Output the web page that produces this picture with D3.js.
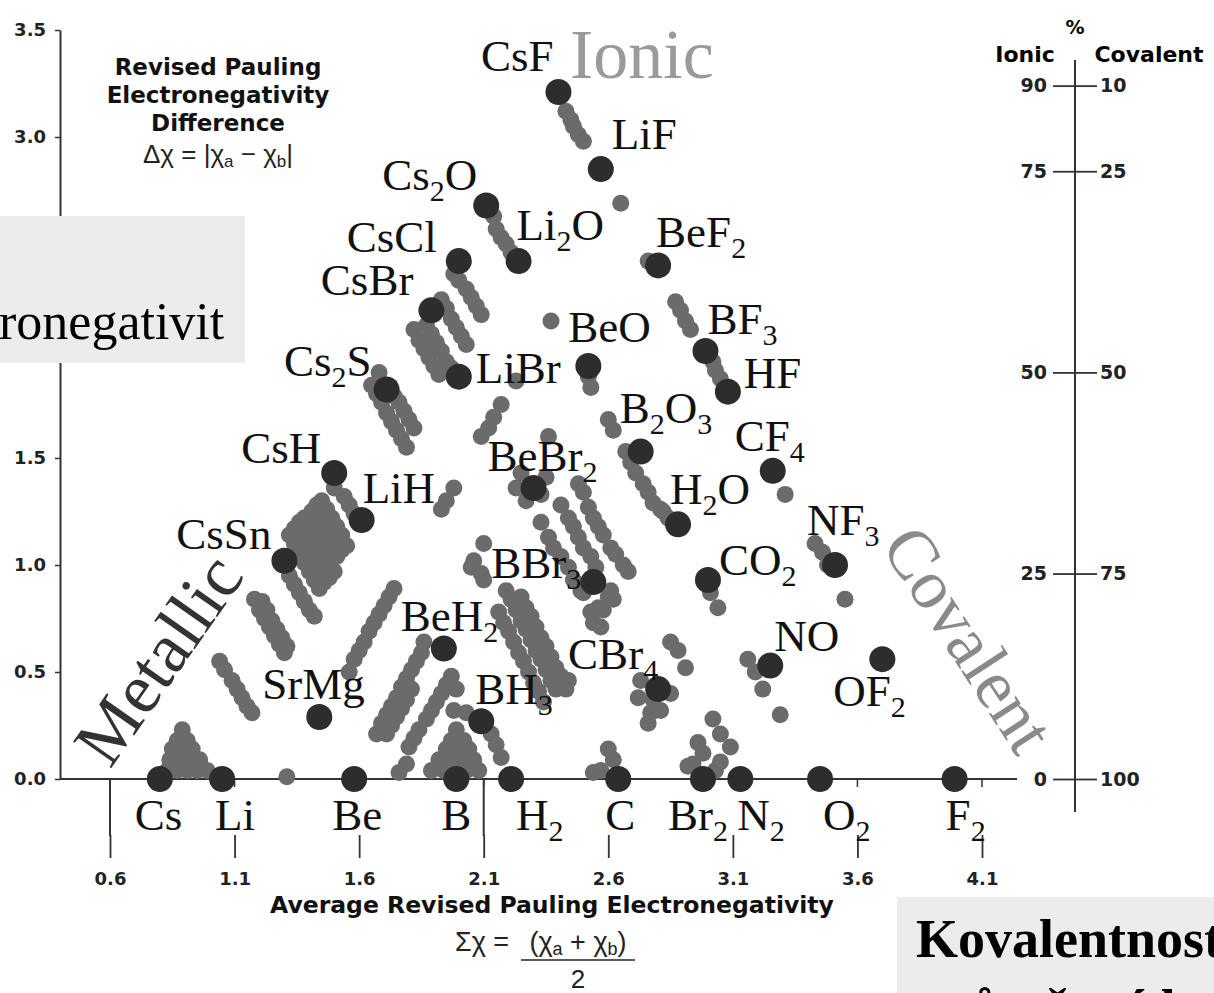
<!DOCTYPE html>
<html>
<head>
<meta charset="utf-8">
<script src="https://cdn.jsdelivr.net/npm/d3@7"></script>
<style>
  html, body { margin: 0; padding: 0; background: #fff; }
  svg { display: block; }
</style>
</head>
<body>
<div id="chart"></div>
<script>
// van Arkel-Ketelaar triangle: average vs difference of electronegativity

const elements   = ["Cs", "Li", "Be", "B", "H2", "C", "Br2", "N2", "O2", "F2"];
const elementAvg = [0.80, 1.05, 1.58, 1.99, 2.21, 2.64, 2.98, 3.13, 3.45, 3.99];

const compounds = ["CsF", "LiF", "Cs2O", "Li2O", "CsCl", "CsBr", "BeF2", "BeO", "LiBr", "BF3",
  "HF", "Cs2S", "B2O3", "CF4", "CsH", "LiH", "BeBr2", "H2O", "NF3", "CsSn",
  "CO2", "BBr3", "BeH2", "NO", "OF2", "CBr4", "SrMg", "BH3"];
const compoundAvg = [2.40, 2.57, 2.11, 2.24, 2.00, 1.89, 2.80, 2.52, 2.00, 2.99,
  3.08, 1.71, 2.73, 3.26, 1.50, 1.61, 2.30, 2.88, 3.51, 1.30,
  3.00, 2.54, 1.94, 3.25, 3.70, 2.80, 1.44, 2.09];
const compoundDiff = [3.21, 2.85, 2.68, 2.42, 2.42, 2.19, 2.40, 1.93, 1.88, 2.00,
  1.81, 1.82, 1.53, 1.44, 1.43, 1.21, 1.36, 1.19, 1.00, 1.02,
  0.93, 0.92, 0.61, 0.53, 0.56, 0.42, 0.29, 0.27];

// unlabelled binaries, [average, difference]
const otherBinaries = [
  [2.43,3.12],[2.45,3.08],[2.46,3.05],[2.48,3.01],[2.50,2.98],[2.65,2.69],
  [2.14,2.63],[2.15,2.57],[2.17,2.53],[2.19,2.50],[2.21,2.46],
  [2.76,2.42],[2.87,2.23],[2.89,2.19],[2.91,2.14],[2.93,2.10],[3.02,1.95],[3.03,1.91],[3.05,1.87],
  [1.98,2.36],[2.00,2.33],[2.03,2.29],[2.05,2.25],[2.07,2.21],[2.09,2.17],
  [1.93,2.24],[1.95,2.20],[1.97,2.15],[1.99,2.11],[2.01,2.07],[2.03,2.03],
  [1.87,2.12],[1.89,2.08],[1.91,2.04],[1.93,2.00],[1.95,1.95],[1.97,1.92],
  [1.82,2.10],[1.84,2.05],[1.86,2.01],[1.88,1.97],[1.90,1.93],[1.92,1.89],
  [1.68,1.90],[1.65,1.84],[1.67,1.80],[1.69,1.76],[1.71,1.71],[1.73,1.67],[1.75,1.63],[1.77,1.59],[1.79,1.55],
  [1.74,1.79],[1.76,1.76],[1.78,1.72],[1.80,1.68],[1.82,1.64],
  [2.37,2.14],[2.52,1.88],[2.53,1.83],[2.23,1.86],
  [2.17,1.75],[2.14,1.69],[2.12,1.64],[2.09,1.60],[2.36,1.60],
  [1.98,1.36],[1.95,1.30],[1.93,1.26],
  [2.25,1.43],[2.23,1.36],[2.27,1.30],[2.35,1.41],[2.33,1.33],
  [2.48,1.38],[2.50,1.34],
  [2.41,1.28],[2.44,1.22],[2.46,1.18],[2.48,1.13],[2.50,1.08],[2.53,1.04],[2.55,0.99],
  [2.52,1.27],[2.54,1.22],[2.56,1.18],[2.58,1.14],[2.61,1.08],[2.63,1.05],[2.66,1.00],[2.68,0.97],
  [2.33,1.20],[2.36,1.13],[2.38,1.08],[2.41,1.04],[2.44,0.99],[2.46,0.93],[2.49,0.88],
  [2.10,1.10],[2.06,1.02],[2.05,0.99],[2.09,0.96],[2.10,0.93],
  [2.50,0.87],[2.56,0.80],[2.58,0.79],[2.53,0.78],[2.54,0.73],[2.57,0.71],[2.60,0.85],[2.61,0.88],[2.62,0.84],
  [2.19,0.88],[2.21,0.84],[2.23,0.79],[2.25,0.74],[2.27,0.70],[2.29,0.65],[2.31,0.60],[2.33,0.56],[2.35,0.51],[2.37,0.46],[2.39,0.42],
  [2.25,0.85],[2.27,0.80],[2.29,0.76],[2.31,0.71],[2.33,0.66],[2.35,0.62],[2.37,0.57],[2.39,0.52],[2.41,0.48],
  [2.16,0.78],[2.18,0.73],[2.20,0.69],[2.22,0.64],[2.24,0.59],[2.26,0.55],[2.28,0.50],[2.30,0.45],[2.32,0.41],[2.34,0.36],
  [2.43,0.42],[2.44,0.46],
  [1.56,0.50],[1.58,0.56],[1.60,0.60],[1.62,0.64],[1.64,0.69],[1.66,0.73],[1.68,0.77],[1.70,0.81],[1.72,0.85],[1.74,0.89],
  [1.67,0.21],[1.69,0.26],[1.71,0.30],[1.73,0.34],[1.75,0.38],[1.77,0.43],[1.79,0.47],[1.81,0.51],[1.83,0.55],[1.85,0.59],
  [1.71,0.21],[1.73,0.25],[1.75,0.29],[1.77,0.33],[1.79,0.37],[1.81,0.42],
  [1.80,0.15],[1.82,0.19],[1.84,0.23],[1.87,0.28],[1.89,0.32],[1.91,0.36],[1.93,0.40],[1.95,0.44],[1.97,0.48],
  [1.86,0.64],[1.76,0.03],[1.79,0.07],
  [1.99,0.23],[1.97,0.18],[2.02,0.18],[1.95,0.14],[1.99,0.14],[2.04,0.14],[1.92,0.09],[1.97,0.09],[2.01,0.09],[2.06,0.09],
  [1.89,0.04],[1.94,0.04],[2.03,0.04],[2.08,0.04],
  [2.13,0.21],[2.15,0.16],[2.17,0.10],[1.95,0.43],[1.99,0.42],[1.98,0.32],[2.03,0.31],
  [2.85,0.64],[2.88,0.60],[2.91,0.52],[2.73,0.46],[2.72,0.38],[2.78,0.37],[2.85,0.40],[2.77,0.31],[2.81,0.32],[2.76,0.26],
  [2.60,0.14],[2.62,0.09],[2.57,0.04],[2.54,0.03],
  [3.02,0.28],[3.05,0.21],[3.09,0.15],[2.96,0.17],[2.98,0.12],[2.94,0.07],[2.92,0.06],[3.03,0.04],[3.05,0.08],
  [3.16,0.56],[3.19,0.50],[3.22,0.42],[3.29,0.30],
  [3.01,0.87],[3.04,0.80],
  [3.43,1.10],[3.46,1.06],[3.48,1.00],[3.55,0.84],
  [3.31,1.33],[2.82,1.25],[2.84,1.22],
  [2.60,1.68],[2.62,1.63],[2.67,1.53],[2.69,1.48],[2.71,1.43],[2.74,1.38],[2.76,1.34],[2.78,1.29],[2.81,1.26],
  [1.45,1.30],[1.47,1.26],[1.49,1.22],[1.51,1.18],[1.53,1.14],[1.55,1.09],
  [1.43,1.28],[1.45,1.23],[1.47,1.19],[1.49,1.15],[1.51,1.11],[1.53,1.07],
  [1.41,1.25],[1.43,1.21],[1.45,1.16],[1.47,1.12],[1.49,1.08],[1.51,1.04],
  [1.38,1.22],[1.40,1.18],[1.42,1.14],[1.44,1.10],[1.46,1.06],[1.48,1.01],[1.50,0.97],
  [1.36,1.20],[1.38,1.15],[1.40,1.11],[1.42,1.07],[1.44,1.03],[1.46,0.99],[1.48,0.94],
  [1.34,1.17],[1.36,1.13],[1.38,1.08],[1.40,1.04],[1.42,1.00],[1.44,0.96],[1.46,0.92],
  [1.32,1.14],[1.34,1.10],[1.36,1.06],[1.38,1.01],[1.40,0.97],[1.42,0.93],[1.44,0.89],
  [1.50,1.36],[1.54,1.32],[1.56,1.28],[1.58,1.24],
  [1.32,0.95],[1.34,0.91],[1.36,0.87],[1.38,0.83],[1.40,0.79],[1.42,0.76],
  [1.18,0.84],[1.20,0.79],[1.22,0.75],[1.24,0.71],[1.26,0.67],[1.28,0.63],[1.30,0.59],
  [1.21,0.83],[1.23,0.79],[1.25,0.74],[1.27,0.70],[1.29,0.66],[1.31,0.62],
  [1.04,0.55],[1.06,0.51],[1.09,0.46],[1.11,0.42],[1.13,0.38],[1.15,0.34],[1.17,0.31],
  [0.89,0.23],[0.87,0.18],[0.91,0.18],[0.85,0.14],[0.89,0.14],[0.93,0.14],
  [0.84,0.09],[0.88,0.09],[0.92,0.09],[0.96,0.09],
  [0.83,0.04],[0.87,0.04],[0.91,0.04],[0.95,0.04],[0.99,0.04],
  [1.31,0.01]
];

const xTicks = [0.6, 1.1, 1.6, 2.1, 2.6, 3.1, 3.6, 4.1];
const xLongTicks = [0.6, 2.1];
const yTicks = [0, 0.5, 1.0, 1.5, 2.0, 2.5, 3.0, 3.5];
const ionicPct = [90, 75, 50, 25, 0];
const ionicAtDiff = [3.24, 2.84, 1.90, 0.96, 0];

// label placement [anchor, dx, dy] relative to the dot
const labelLayout = {
  CsF: ["end", -5, -21], LiF: ["start", 11, -20], Cs2O: ["end", -9, -15], Li2O: ["start", -2, -21],
  CsCl: ["end", -22, -9], CsBr: ["end", -18, -15], BeF2: ["start", -2, -18], BeO: ["start", -20, -24],
  LiBr: ["start", 17, 6], BF3: ["start", 2, -17], HF: ["start", 16, -4], Cs2S: ["end", -15, -14],
  B2O3: ["start", -21, -29], CF4: ["start", -38, -20], CsH: ["end", -13, -10], LiH: ["start", 1, -17],
  BeBr2: ["start", -46, -17], H2O: ["start", -8, -20], NF3: ["start", -28, -30], CsSn: ["end", -13, -12],
  CO2: ["start", 11, -5], BBr3: ["end", -12, -4], BeH2: ["start", -43, -17], NO: ["start", 4, -15],
  OF2: ["start", -49, 47], CBr4: ["start", -90, -20], SrMg: ["start", -57, -18], BH3: ["start", -6, -17]
};
const elementLabelDx = { Cs: -25, Li: -7, Be: -22, B: -15, H2: 5, C: -13, Br2: -35, N2: -3, O2: 3, F2: -9 };

const W = 1214, H = 993;
const serif = "'Liberation Serif', 'Times New Roman', serif";
const sans = "'DejaVu Sans', sans-serif";
const plain = "'Liberation Sans', Arial, sans-serif";

const svg = d3.select("#chart").append("svg")
  .attr("width", W).attr("height", H)
  .attr("viewBox", `0 0 ${W} ${H}`);

const x = d3.scaleLinear().domain([0.6, 4.1]).range([110, 982]);
const y = d3.scaleLinear().domain([0, 3.5]).range([779, 30]);

function chem(sel, name, subSize, shift) {
  const parts = name.match(/[A-Za-z]+|\d+/g);
  parts.forEach((p, i) => {
    const sub = /\d/.test(p);
    const t = sel.append("tspan").text(p);
    if (sub) t.attr("font-size", subSize).attr("dy", shift);
    else if (i > 0) t.attr("dy", -shift);
  });
}

// text with chi subscripts: parts are [text, isSub]
function formula(sel, parts, subSize) {
  let down = false;
  parts.forEach(p => {
    const t = sel.append("tspan").text(p[0]);
    if (p[1]) { t.attr("font-size", subSize).attr("dy", 4); down = true; }
    else if (down) { t.attr("dy", -4); down = false; }
  });
}

// y axis
const yAxis = svg.append("g")
  .attr("transform", "translate(60,0)")
  .call(d3.axisLeft(y).tickValues(yTicks).tickSize(5).tickSizeOuter(0).tickPadding(9)
    .tickFormat(d3.format(".1f")));
yAxis.select(".domain").attr("stroke", "#333").attr("stroke-width", 2);
yAxis.selectAll(".tick line").attr("stroke", "#333").attr("stroke-width", 1.5);
yAxis.selectAll("text").attr("font-family", sans).attr("font-weight", "bold")
  .attr("font-size", 18).attr("fill", "#222");
// these two sit under the grey overlay box
yAxis.selectAll(".tick").filter(d => y(d) > 216 && y(d) < 363).remove();

// x axis line + small marks
svg.append("line").attr("x1", 60).attr("x2", 1017).attr("y1", y(0)).attr("y2", y(0))
  .attr("stroke", "#333").attr("stroke-width", 2);
svg.selectAll(".xmark").data(xTicks).enter().append("line")
  .attr("x1", d => x(d)).attr("x2", d => x(d)).attr("y1", y(0)).attr("y2", y(0) + 8)
  .attr("stroke", "#333").attr("stroke-width", 1.5);
svg.selectAll(".xlong").data(xLongTicks).enter().append("line")
  .attr("x1", d => x(d)).attr("x2", d => x(d)).attr("y1", y(0)).attr("y2", 836)
  .attr("stroke", "#333").attr("stroke-width", 2);

const xAxis = svg.append("g")
  .attr("transform", "translate(0,835)")
  .call(d3.axisBottom(x).tickValues(xTicks).tickSize(23).tickPadding(14)
    .tickFormat(d3.format(".1f")));
xAxis.select(".domain").remove();
xAxis.selectAll(".tick line").attr("stroke", "#333").attr("stroke-width", 1.8);
xAxis.selectAll("text").attr("font-family", sans).attr("font-weight", "bold")
  .attr("font-size", 18).attr("fill", "#222");

// right % axis
const pctY = d3.scaleLinear().domain(ionicPct).range(ionicAtDiff.map(y));
svg.append("line").attr("x1", 1075).attr("x2", 1075).attr("y1", 60).attr("y2", 812)
  .attr("stroke", "#333").attr("stroke-width", 2);
const rL = svg.append("g").attr("transform", "translate(1075,0)")
  .call(d3.axisLeft(pctY).tickValues(ionicPct).tickSize(22).tickPadding(6));
const rR = svg.append("g").attr("transform", "translate(1075,0)")
  .call(d3.axisRight(pctY).tickValues(ionicPct).tickSize(22).tickPadding(3)
    .tickFormat(d => 100 - d));
[rL, rR].forEach(g => {
  g.select(".domain").remove();
  g.selectAll(".tick line").attr("stroke", "#333").attr("stroke-width", 1.8);
  g.selectAll("text").attr("font-family", sans).attr("font-weight", "bold")
    .attr("font-size", 19).attr("fill", "#222");
});
svg.append("text").attr("x", 1075).attr("y", 34).attr("text-anchor", "middle")
  .attr("font-family", sans).attr("font-weight", "bold").attr("font-size", 19).text("%");
svg.append("text").attr("x", 1025).attr("y", 62).attr("text-anchor", "middle")
  .attr("font-family", sans).attr("font-weight", "bold").attr("font-size", 22).text("Ionic");
svg.append("text").attr("x", 1149).attr("y", 62).attr("text-anchor", "middle")
  .attr("font-family", sans).attr("font-weight", "bold").attr("font-size", 22).text("Covalent");

// y title block
const title = svg.append("g").attr("font-family", sans).attr("font-weight", "bold")
  .attr("font-size", 23).attr("text-anchor", "middle").attr("fill", "#111");
["Revised Pauling", "Electronegativity", "Difference"].forEach((t, i) => {
  title.append("text").attr("x", 218).attr("y", 75 + i * 28).text(t);
});
const f1 = svg.append("text").attr("x", 218).attr("y", 163).attr("text-anchor", "middle")
  .attr("font-family", plain).attr("font-size", 26).attr("fill", "#222");
formula(f1, [["Δχ =   |χ"], ["a", 1], [" − χ"], ["b", 1], ["|"]], 17);

// x title block
svg.append("text").attr("x", 552).attr("y", 913).attr("text-anchor", "middle")
  .attr("font-family", sans).attr("font-weight", "bold").attr("font-size", 23.5).attr("fill", "#111")
  .text("Average Revised Pauling Electronegativity");
svg.append("text").attr("x", 455).attr("y", 951).attr("font-family", plain).attr("font-size", 27)
  .attr("fill", "#222").text("Σχ =");
const f2 = svg.append("text").attr("x", 578).attr("y", 951).attr("text-anchor", "middle")
  .attr("font-family", plain).attr("font-size", 27).attr("fill", "#222");
formula(f2, [["(χ"], ["a", 1], [" + χ"], ["b", 1], [")"]], 18);
svg.append("line").attr("x1", 521).attr("x2", 635).attr("y1", 960).attr("y2", 960)
  .attr("stroke", "#222").attr("stroke-width", 1.6);
svg.append("text").attr("x", 578).attr("y", 988).attr("text-anchor", "middle")
  .attr("font-family", plain).attr("font-size", 26).attr("fill", "#222").text("2");

// points
svg.append("g").selectAll("circle").data(otherBinaries).enter().append("circle")
  .attr("cx", d => x(d[0])).attr("cy", d => y(d[1])).attr("r", 8.5)
  .attr("fill", "#6b6b6b");

const compData = compounds.map((c, i) => ({ name: c, avg: compoundAvg[i], diff: compoundDiff[i] }));
const elemData = elements.map((e, i) => ({ name: e, avg: elementAvg[i], diff: 0 }));

svg.append("g").selectAll("circle").data(compData.concat(elemData)).enter().append("circle")
  .attr("cx", d => x(d.avg)).attr("cy", d => y(d.diff)).attr("r", 13)
  .attr("fill", "#2d2d2d");

// region words
svg.append("text").attr("x", 570).attr("y", 78).attr("font-family", serif)
  .attr("font-size", 70).attr("fill", "#9a9a9a").text("Ionic");
svg.append("text").attr("transform", "translate(110,770) rotate(-55)").attr("font-family", serif)
  .attr("font-size", 71).attr("fill", "#333").text("Metallic");
svg.append("text").attr("transform", "translate(880,546) rotate(57)").attr("font-family", serif)
  .attr("font-size", 70).attr("fill", "#8a8a8a").text("Covalent");

// compound labels
const labels = svg.append("g").attr("font-family", serif).attr("font-size", 45).attr("fill", "#111");
compData.forEach(d => {
  const L = labelLayout[d.name];
  const t = labels.append("text").attr("x", x(d.avg) + L[1]).attr("y", y(d.diff) + L[2])
    .attr("text-anchor", L[0]);
  chem(t, d.name, 30, 11);
});
elemData.forEach(d => {
  const t = labels.append("text").attr("x", x(d.avg) + elementLabelDx[d.name]).attr("y", y(0) + 51);
  chem(t, d.name, 30, 11);
});

// grey overlay boxes
svg.append("rect").attr("x", 0).attr("y", 216).attr("width", 245).attr("height", 147).attr("fill", "#ececec");
svg.append("text").attr("x", -1).attr("y", 339).attr("font-family", serif).attr("font-size", 52)
  .attr("fill", "#000").text("ronegativit");
svg.append("rect").attr("x", 897).attr("y", 897).attr("width", 317).attr("height", 96).attr("fill", "#ececec");
svg.append("text").attr("x", 916).attr("y", 957).attr("font-family", serif).attr("font-weight", "bold")
  .attr("font-size", 54).attr("fill", "#000").text("Kovalentnost");
svg.append("text").attr("x", 916).attr("y", 1027).attr("font-family", serif).attr("font-weight", "bold")
  .attr("font-size", 54).attr("fill", "#000").text("průměrné hodnoty");
</script>
</body>
</html>
